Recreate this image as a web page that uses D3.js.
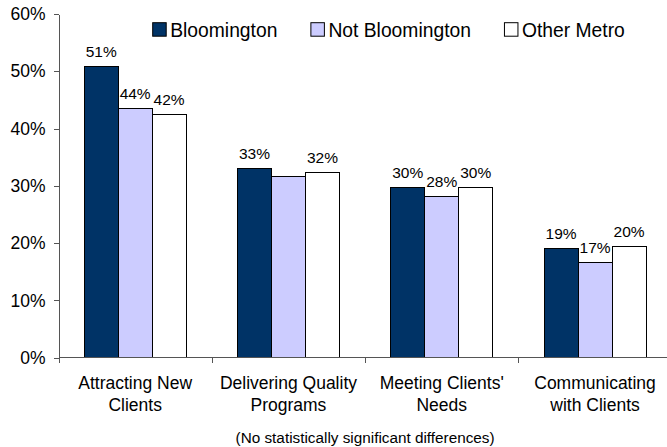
<!DOCTYPE html>
<meta charset="utf-8">
<style>
body { margin: 0; background: #fff; }
svg { display: block; font-family: Arial, "Liberation Sans", sans-serif; fill: #000; }
.axis path, .axis line { stroke: #555; shape-rendering: crispEdges; }
.bars rect { stroke: #000; stroke-width: 1; shape-rendering: crispEdges; }
</style>
<svg width="667" height="447"></svg>
<script src="https://d3js.org/d3.v7.min.js"></script>
<script>

// data
var categories = [
  ["Attracting New", "Clients"],
  ["Delivering Quality", "Programs"],
  ["Meeting Clients'", "Needs"],
  ["Communicating", "with Clients"]
];
var series = ["Bloomington", "Not Bloomington", "Other Metro"];
var bloomington = [50.8, 33.1, 29.7, 19.0];
var notBloomington = [43.5, 31.7, 28.2, 16.6];
var otherMetro = [42.5, 32.3, 29.7, 19.4];
// the reference leaves the Not Bloomington label off in the 2nd group
var valueLabels = [
  ["51%", "44%", "42%"],
  ["33%", "", "32%"],
  ["30%", "28%", "30%"],
  ["19%", "17%", "20%"]
];
var yTicks = [0, 10, 20, 30, 40, 50, 60];
var footnote = "(No statistically significant differences)";

var colors = ["#003366", "#ccccff", "#ffffff"];
var values = [bloomington, notBloomington, otherMetro];

var svg = d3.select("svg");

var plotLeft = 58.5, plotRight = 671.7, plotTop = 14, plotBottom = 357.7;

var x0 = d3.scaleBand()
    .domain(d3.range(categories.length))
    .range([plotLeft, plotRight])
    .paddingInner(0.335)
    .paddingOuter(0.1675);

var x1 = d3.scaleBand()
    .domain(d3.range(series.length))
    .range([0, x0.bandwidth()]);

var y = d3.scaleLinear()
    .domain([0, 60])
    .range([plotBottom, plotTop]);

// y axis
var yAxis = svg.append("g")
    .attr("class", "axis")
    .attr("transform", "translate(" + plotLeft + ",0)")
    .call(d3.axisLeft(y).tickValues(yTicks).tickFormat(function(d) { return d + "%"; })
      .tickSizeInner(5).tickSizeOuter(0).tickPadding(8));
yAxis.selectAll("text")
    .attr("fill", "#000")
    .style("font-size", "17.5px")
    .style("font-family", "Arial, 'Liberation Sans', sans-serif");

// bars
var rows = [];
categories.forEach(function(c, i) {
  series.forEach(function(s, j) {
    rows.push({ cat: i, ser: j, value: values[j][i], label: valueLabels[i][j] });
  });
});

var bars = svg.append("g").attr("class", "bars");
bars.selectAll("rect")
  .data(rows)
  .enter().append("rect")
    .attr("x", function(d) { return x0(d.cat) + x1(d.ser); })
    .attr("y", function(d) { return y(d.value); })
    .attr("width", x1.bandwidth())
    .attr("height", function(d) { return y(0) - y(d.value); })
    .attr("fill", function(d) { return colors[d.ser]; });

svg.append("g").selectAll("text")
  .data(rows.filter(function(d) { return d.label; }))
  .enter().append("text")
    .attr("x", function(d) { return x0(d.cat) + x1(d.ser) + x1.bandwidth() / 2; })
    .attr("y", function(d) { return y(d.value) - 9.5; })
    .attr("text-anchor", "middle")
    .style("font-size", "15.5px")
    .text(function(d) { return d.label; });

// x axis
var xTickPos = d3.range(categories.length + 1).map(function(i) { return plotLeft + i * x0.step(); });
var xAxis = svg.append("g").attr("class", "axis");
xAxis.append("line")
    .attr("x1", plotLeft).attr("x2", plotRight)
    .attr("y1", y(0)).attr("y2", y(0));
xAxis.selectAll(".tick")
  .data(xTickPos)
  .enter().append("line")
    .attr("x1", function(d) { return Math.round(d) + 0.5; })
    .attr("x2", function(d) { return Math.round(d) + 0.5; })
    .attr("y1", y(0)).attr("y2", y(0) + 5);

var catLabels = svg.append("g").selectAll("text")
  .data(categories)
  .enter().append("text")
    .attr("text-anchor", "middle")
    .attr("x", function(d, i) { return x0(i) + x0.bandwidth() / 2; })
    .attr("y", 389)
    .style("font-size", "17.5px");
catLabels.selectAll("tspan")
  .data(function(d) { return d; })
  .enter().append("tspan")
    .attr("x", function() { return d3.select(this.parentNode).attr("x"); })
    .attr("dy", function(d, i) { return i ? 21.7 : 0; })
    .text(function(d) { return d; });

svg.append("text")
    .attr("x", (plotLeft + plotRight) / 2)
    .attr("y", 442.7)
    .attr("text-anchor", "middle")
    .style("font-size", "15.3px")
    .text(footnote);

// legend
var legendX = 152.7, legendGap = 33.5, boxSize = 13.5;
series.forEach(function(s, j) {
  var g = svg.append("g").attr("transform", "translate(" + legendX + ",22.7)");
  g.append("rect")
    .attr("width", boxSize).attr("height", boxSize)
    .attr("fill", colors[j])
    .attr("stroke", "#000")
    .attr("stroke-width", 1);
  var t = g.append("text")
    .attr("x", 17.5)
    .attr("y", 14)
    .style("font-size", "19.3px")
    .text(s);
  legendX += 17.5 + t.node().getComputedTextLength() + legendGap;
});

</script>
